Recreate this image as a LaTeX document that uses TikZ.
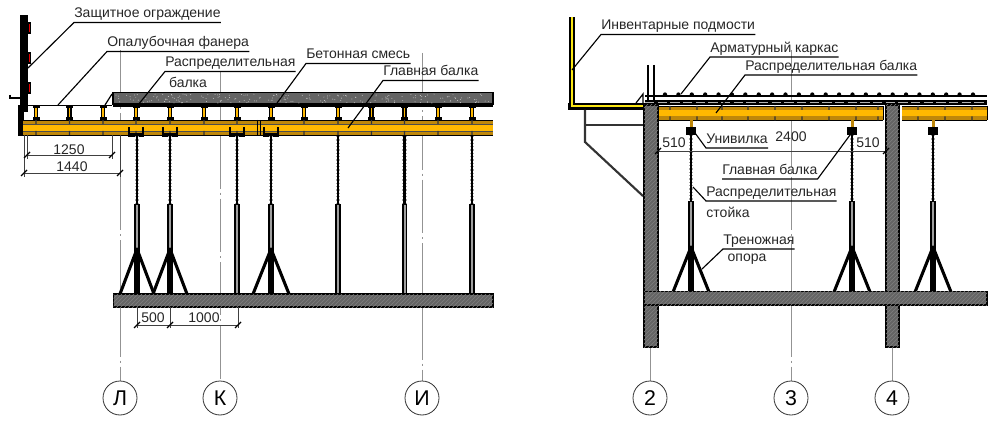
\documentclass[tikz,border=0pt]{standalone}
\usepackage{fontspec}
\setmainfont{Liberation Sans}
\usetikzlibrary{patterns}
\definecolor{beamyellow}{RGB}{255,184,0}
\definecolor{beamdark}{RGB}{190,135,10}
\definecolor{scaffold}{RGB}{250,230,20}
\definecolor{concretegray}{RGB}{100,100,100}
\definecolor{hatchgray}{RGB}{128,128,128}
\tikzset{
  callout/.style={font=\fontsize{10.5pt}{12pt}\selectfont,text=black!85,inner xsep=0pt,inner ysep=1pt,text height=8pt,text depth=2.4pt,anchor=south west},
  plain/.style={font=\fontsize{10.5pt}{12pt}\selectfont,text=black!85,inner sep=0pt},
  leader/.style={draw=black,line width=.85pt},
  axisline/.style={draw=gray!85,line width=.7pt,dash pattern=on 40pt off 3pt on 1.5pt off 3pt},
  axislabel/.style={circle,draw=black!80,line width=.6pt,minimum size=25.5pt,inner sep=0pt,fill=white,font=\fontsize{16pt}{18pt}\selectfont},
  dimline/.style={draw=black!75,line width=.45pt},
  dimtick/.style={draw=black,line width=.9pt},
  concrete/.style={draw=black,line width=1pt,fill=concretegray},
  hatched/.style={pattern=north east lines,pattern color=hatchgray}
}
\newcommand{\ibeam}[2]{%
  \fill[black] (#1-3.5,#2-1) rectangle (#1+3.5,#2+1);
  \fill[black] (#1-2.2,#2) rectangle (#1+2.2,#2+12);
  \fill[beamyellow] (#1-.8,#2+1.5) rectangle (#1+.8,#2+10);
  \fill[black] (#1-3.5,#2+10.5) rectangle (#1+3.5,#2+13);}
\newcommand{\shore}[3]{%
  \draw[line width=3.4pt,dash pattern=on .9pt off 1.6pt,draw=gray!70] (#1,#2) -- (#1,#3);
  \draw[black,line width=2.2pt] (#1,#2) -- (#1,#3);
  \fill[black] (#1-2.7,#3) rectangle (#1+2.7,#3+90);
  \fill[gray!75] (#1-1,#3+1) rectangle (#1+1,#3+90);}
\newcommand{\tripod}[4]{%
  \draw[black,line width=2.3pt,line join=round] (#2,#4) -- (#1,#3) -- (#1+#1-#2,#4);
  \fill[black] (#1-2.6,#3) rectangle (#1+2.6,#4);}
\begin{document}
\begin{tikzpicture}[x=.75pt,y=-.75pt]
\useasboundingbox (0,0) rectangle (996,424);
\foreach \ax/\top in {120/50,220/72,422/53,791/50}
  \draw[axisline] (\ax,\top) -- (\ax,382);
\foreach \ax in {650,892}
  \draw[gray!85,line width=.7pt] (\ax,347) -- (\ax,382);
% left part
\fill[black] (20,15) rectangle (28,112);
\foreach \gy in {22,52,82} {
  \fill[black] (28,\gy) rectangle (31,\gy+12);
  \fill[red!90!black] (28.5,\gy+2) rectangle (30.2,\gy+10);}
\draw[black,line width=.8pt] (10,95) -- (10,98) -- (22,98);
\fill[black] (18,105) rectangle (24,136);
\draw[black,line width=1.3pt] (27,105.5) -- (112,105.5);
\draw[black,line width=.9pt] (105,105) -- (112,94);
\draw[concrete] (113,92.5) rectangle (493,104);
\fill[black] (113,104) rectangle (493,107.5);
\pgfmathsetseed{7}
\foreach \i in {1,...,200}
  \fill[gray!35] ({116+rnd*375},{94+rnd*9}) circle (.35pt);
\foreach \bx in {36,69.5,103,136,170,204,237,271,304,338,371.5,404.5,438,472}
  \ibeam{\bx}{107};
\fill[beamdark] (23,120) rectangle (493,135);
\fill[beamyellow] (23,124) rectangle (493,131);
\draw[black,line width=.7pt] (23,120) -- (493,120) (23,135) -- (493,135);
\draw[black!70,line width=.3pt] (23,124) -- (493,124) (23,131) -- (493,131);
\foreach \bx in {36,69.5,103,136,170,204,237,304,338,371.5,404.5,438,472}
  \fill[black!80] (\bx-.6,120) rectangle (\bx+.6,124) (\bx-.6,131) rectangle (\bx+.6,135);
\draw[black,line width=.7pt] (257,120) -- (257,135) (260,120) -- (260,135);
\foreach \hx in {136,170,237,271} {
  \draw[black,line width=2pt] (\hx-7,127.5) -- (\hx-7,135) (\hx+7,127.5) -- (\hx+7,135);
  \fill[black] (\hx-8,133.5) rectangle (\hx+8,137);}
\foreach \sx in {137,170,237,271,338,404.5,472}
  \shore{\sx}{136}{204};
\foreach \tx/\fx in {137/120,170/153,271/253}
  \tripod{\tx}{\fx}{249}{294};
\draw[concrete] (113.5,294) rectangle (493,307);
\fill[hatched] (113.5,294) rectangle (493,307);
% right part
\fill[black] (569,17) rectangle (575,110);
\fill[black] (568,103) rectangle (645,110);
\fill[scaffold] (570.7,17) rectangle (573.3,107.5);
\fill[scaffold] (570.7,105) rectangle (644,107.5);
\draw[black,line width=.9pt] (636,103) -- (643,94) -- (643,103);
\draw[black,line width=1.1pt] (648,65) -- (648,105) (654,65) -- (654,105);
\draw[black!80,line width=1.6pt] (585,110) -- (585,142) -- (643,196);
\draw[black!80,line width=1.6pt] (585,125) -- (644,125);
\draw[black,line width=1.4pt] (645,96) -- (987,96);
\foreach \i in {0,...,23}
  \fill[black] ({665+\i*13.39},94.5) circle (1.6pt);
\fill[black] (645,100) rectangle (987,105.5);
\draw[gray!60,line width=.9pt,dash pattern=on 7pt off 2.5pt] (645,102.7) -- (987,102.7);
\foreach \bx/\ex in {658/883,902/987} {
  \fill[beamdark] (\bx,106) rectangle (\ex,120.5);
  \fill[beamyellow] (\bx,110) rectangle (\ex,116.5);
  \draw[black,line width=.7pt] (\bx,106) -- (\ex,106) (\bx,120.5) -- (\ex,120.5) (\ex,106) -- (\ex,120.5);
}
\foreach \bx in {670,697,722,748,775,802,829,856,878,918,945,972}
  \fill[black!80] (\bx-.6,106) rectangle (\bx+.6,110) (\bx-.6,116.5) rectangle (\bx+.6,120.5);
\foreach \hx in {691,852,933} {
  \fill[beamdark] (\hx-1.5,120) rectangle (\hx+1.5,128);
  \fill[black] (\hx-5,127.5) rectangle (\hx+5,135);}
\foreach \sx in {691,852,933}
  \shore{\sx}{135}{201};
\foreach \tx/\fx in {691/673,852/834,933/915}
  \tripod{\tx}{\fx}{247}{292};
\foreach \colx/\colw in {644/14,886/13} {
  \draw[concrete] (\colx,105) rectangle (\colx+\colw,347);
  \fill[hatched] (\colx,105) rectangle (\colx+\colw,347);}
\draw[concrete] (644,291.5) rectangle (987,305);
\fill[hatched] (644,291.5) rectangle (987,305);
% dimensions
\draw[dimline] (24,135) -- (24,177) (27,135) -- (27,159) (112,135) -- (112,159);
\draw[dimline] (120,135) -- (120,177);
\draw[dimline] (27,155) -- (112,155) (24,173) -- (120,173);
\draw[dimline] (137,307) -- (137,328) (170,307) -- (170,328) (238,307) -- (238,328);
\draw[dimline] (137,325) -- (238,325);
\draw[dimline] (658,151) -- (886,151);
\foreach \dx/\dy in {27/155,112/155,24/173,120/173,137/325,170/325,238/325,658/151,886/151}
  \draw[dimtick] (\dx-3,\dy+3) -- (\dx+3,\dy-3);
\node[plain] (dimA) at (69,150) {1250};
\node[plain] (dimB) at (72,167) {1440};
\node[plain] (dimC) at (153,318) {500};
\node[plain] (dimD) at (204,318) {1000};
\node[plain] (dimE) at (674,143) {510};
\node[plain] (dimF) at (791,137) {2400};
\node[plain] (dimG) at (868,143) {510};
% callouts
\coordinate (guardTip) at (28,68);
\coordinate (plyTip) at (58,105);
\coordinate (distTip) at (138,105);
\coordinate (mixTip) at (277,103);
\coordinate (mainTip) at (348,128);
\coordinate (scafTip) at (572,70);
\coordinate (rebarTip) at (681,94);
\coordinate (distTipB) at (716,113);
\coordinate (forkTip) at (695,133);
\coordinate (mainTipB) at (850,135);
\coordinate (standTip) at (693,187);
\coordinate (legTip) at (702,269);
\node[callout] (guard) at (74,22.5) {Защитное ограждение};
\node[callout] (ply) at (107,51.5) {Опалубочная фанера};
\node[callout] (dist) at (165,71.5) {Распределительная};
\node[plain,anchor=center] (distB) at (188,82.5) {балка};
\node[callout] (mix) at (306,63.5) {Бетонная смесь};
\node[callout] (main) at (383,80.5) {Главная балка};
\node[callout] (scaf) at (601,34.5) {Инвентарные подмости};
\node[callout] (rebar) at (710,57) {Арматурный каркас};
\node[callout] (distC) at (745,75) {Распределительная балка};
\node[callout] (fork) at (706,148) {Унивилка};
\node[callout] (mainB) at (722,179) {Главная балка};
\node[callout] (stand) at (706,201) {Распределительная};
\node[plain] (standB) at (728,212) {стойка};
\node[callout] (leg) at (723,249) {Треножная};
\node[plain] (legB) at (747,259.5) {опора};
\foreach \tip/\lbl in {guardTip/guard,plyTip/ply,distTip/dist,mixTip/mix,mainTip/main,scafTip/scaf,rebarTip/rebar,distTipB/distC,forkTip/fork,standTip/stand,legTip/leg}
  \draw[leader] (\tip) -- (\lbl.south west) -- (\lbl.south east);
\draw[leader] (mainTipB) -- (mainB.south east) -- (mainB.south west);
\node[axislabel] (axisL) at (120,398) {Л};
\node[axislabel] (axisK) at (220,398) {К};
\node[axislabel] (axisI) at (422,398) {И};
\node[axislabel] (axisTwo) at (650,398) {2};
\node[axislabel] (axisThree) at (791,398) {3};
\node[axislabel] (axisFour) at (892,398) {4};
\end{tikzpicture}
\end{document}
